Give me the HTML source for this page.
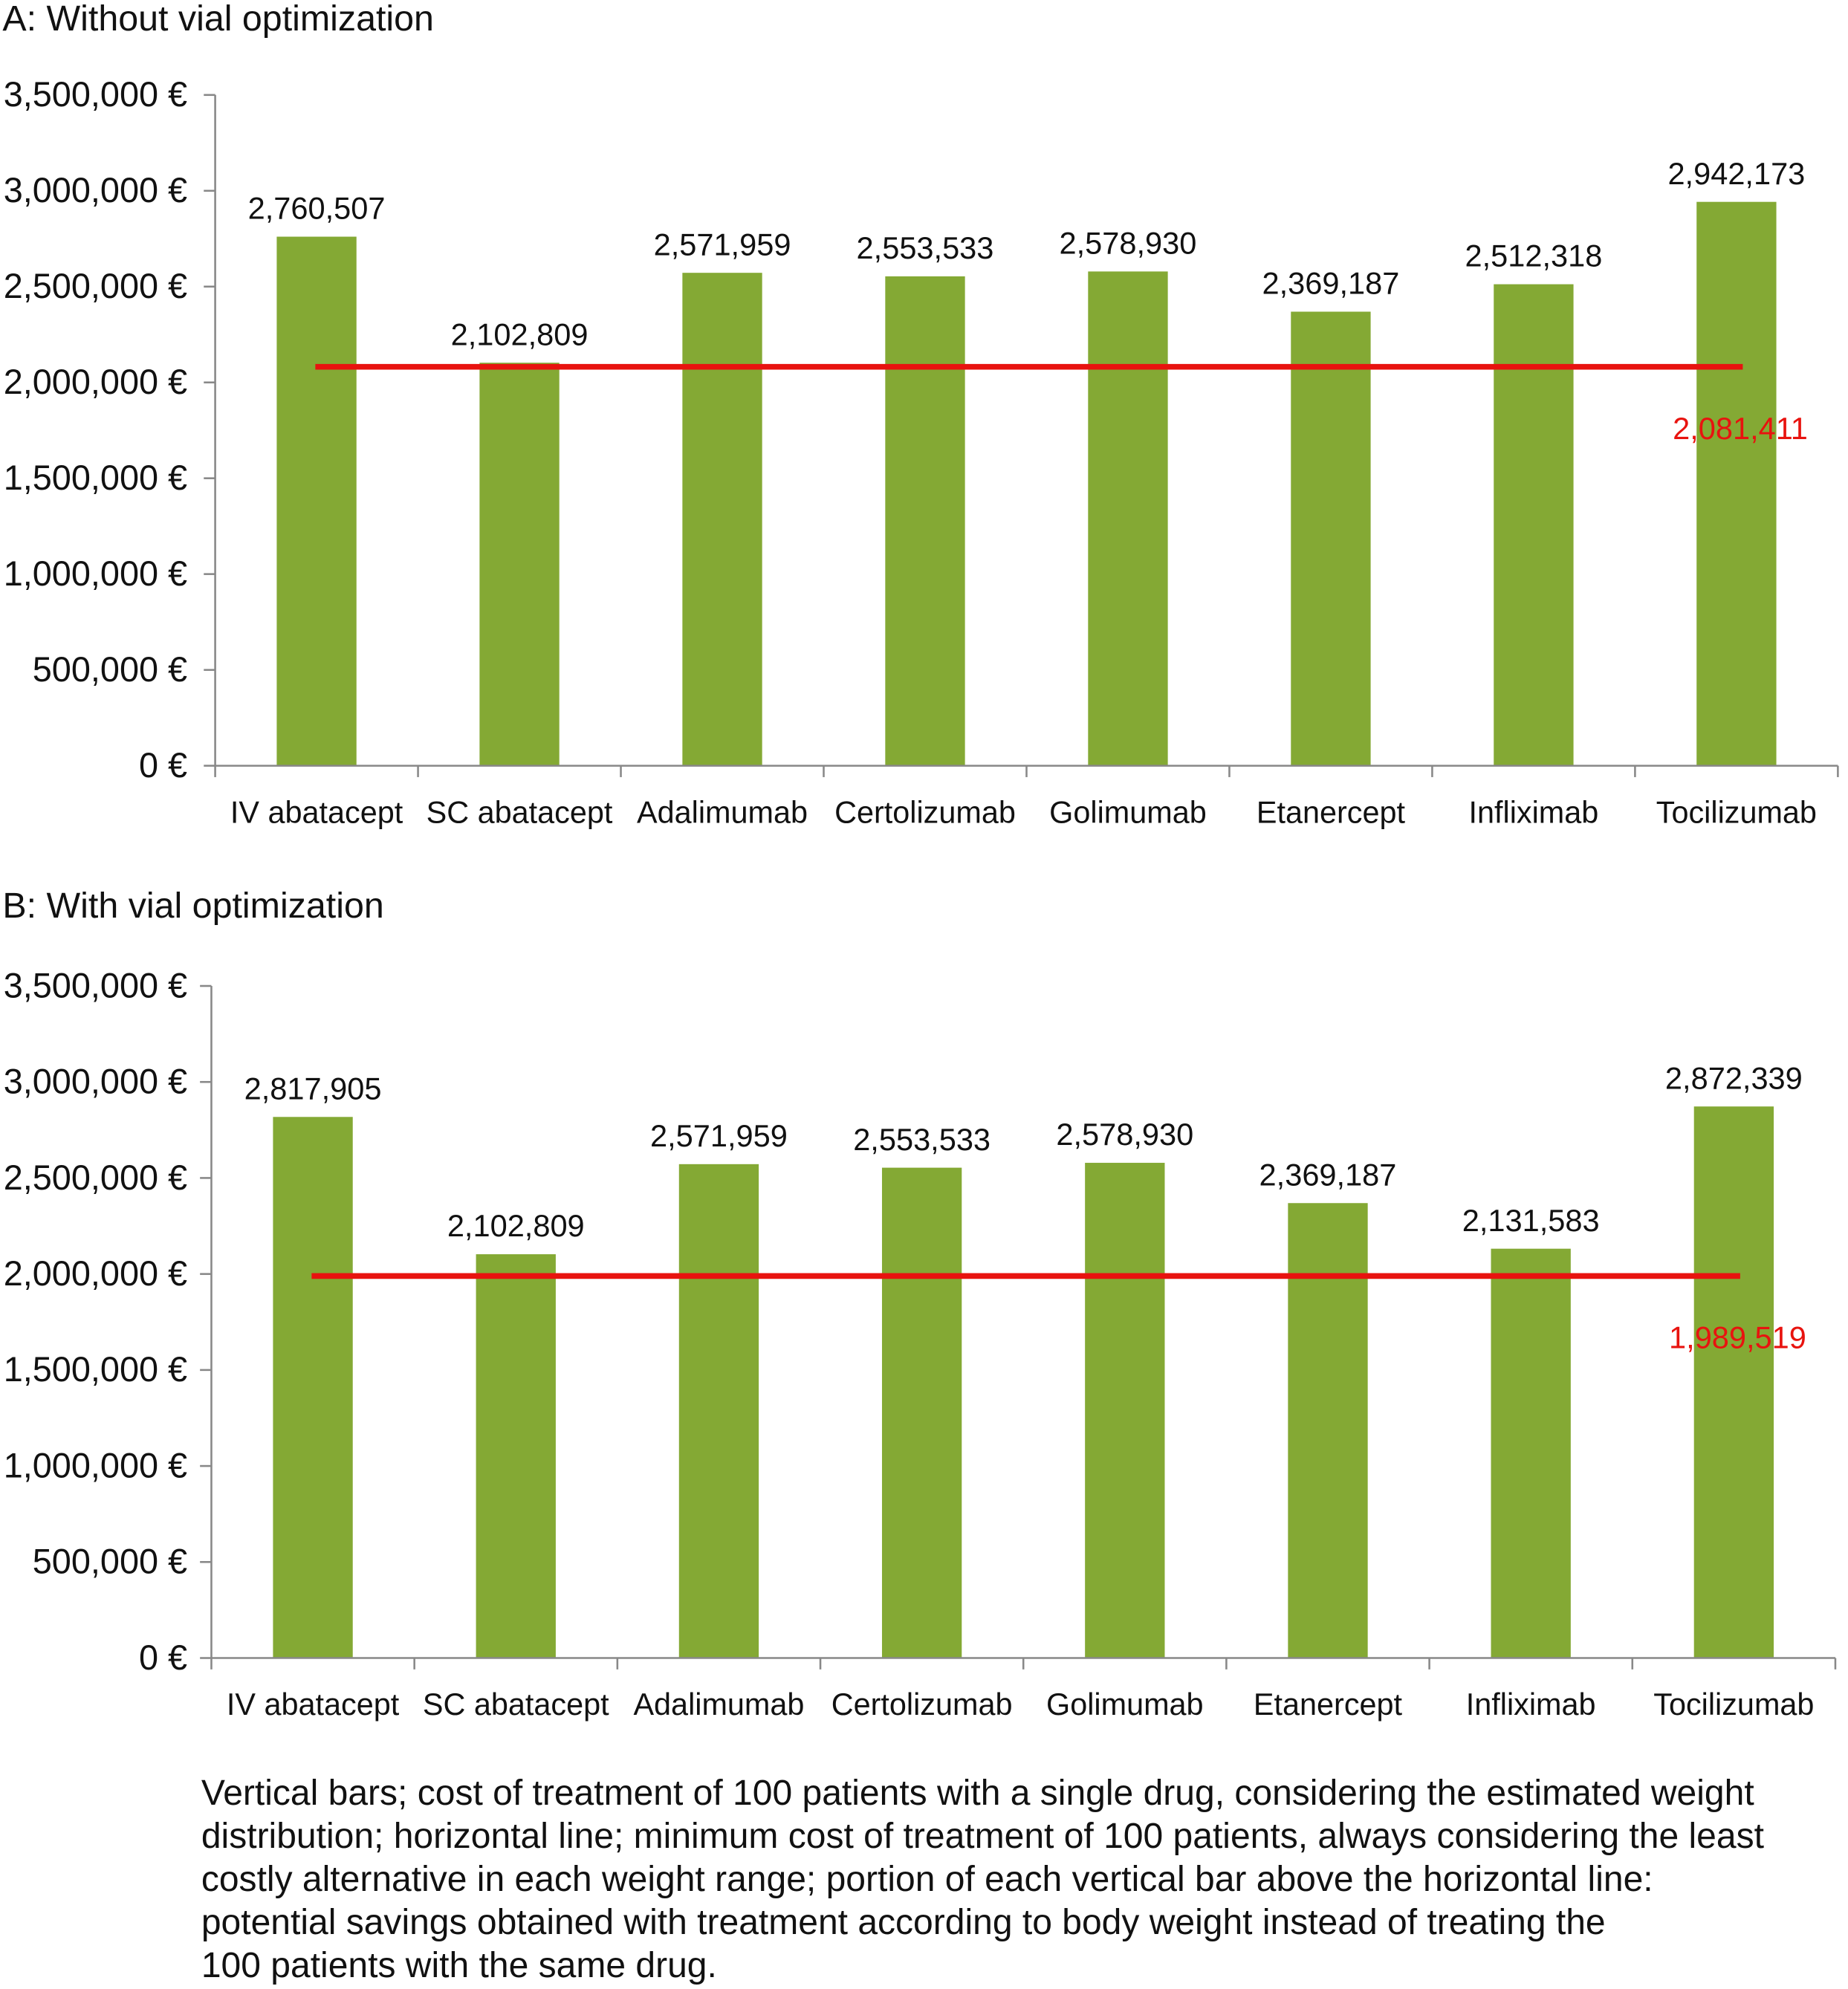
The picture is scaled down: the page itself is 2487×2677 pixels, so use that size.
<!DOCTYPE html>
<html><head><meta charset="utf-8">
<style>
html,body{margin:0;padding:0;background:#fff;}
svg{display:block;font-family:"Liberation Sans",Arial,sans-serif;}
</style></head>
<body>
<svg id="chart" width="2487" height="2677" viewBox="0 0 1460 1571.5" xmlns="http://www.w3.org/2000/svg">
<rect width="1460" height="1571.5" fill="#fff"/>
<g id="caption" font-size="28.2" fill="#111">
<text x="159" y="1426">Vertical bars; cost of treatment of 100 patients with a single drug, considering the estimated weight</text>
<text x="159" y="1460">distribution; horizontal line; minimum cost of treatment of 100 patients, always considering the least</text>
<text x="159" y="1494">costly alternative in each weight range; portion of each vertical bar above the horizontal line:</text>
<text x="159" y="1528">potential savings obtained with treatment according to body weight instead of treating the</text>
<text x="159" y="1562">100 patients with the same drug.</text>
</g>
</svg>
<script>
const categories = ["IV abatacept","SC abatacept","Adalimumab","Certolizumab","Golimumab","Etanercept","Infliximab","Tocilizumab"];
const valuesA = [2760507,2102809,2571959,2553533,2578930,2369187,2512318,2942173];
const valuesB = [2817905,2102809,2571959,2553533,2578930,2369187,2131583,2872339];
const minA = 2081411;
const minB = 1989519;
const yTicks = [0,500000,1000000,1500000,2000000,2500000,3000000,3500000];
const yTickLabels = ["0 €","500,000 €","1,000,000 €","1,500,000 €","2,000,000 €","2,500,000 €","3,000,000 €","3,500,000 €"];
const labelsA = ["2,760,507","2,102,809","2,571,959","2,553,533","2,578,930","2,369,187","2,512,318","2,942,173"];
const labelsB = ["2,817,905","2,102,809","2,571,959","2,553,533","2,578,930","2,369,187","2,131,583","2,872,339"];
const minLabelA = "2,081,411";
const minLabelB = "1,989,519";

const NS="http://www.w3.org/2000/svg";
const svg=document.getElementById('chart');
function mk(tag,attrs,parent){const e=document.createElementNS(NS,tag);for(const k in attrs)e.setAttribute(k,attrs[k]);parent.appendChild(e);return e;}

function drawChart(cfg){
  const g=mk('g',{},svg);
  
  
  const y=v=>cfg.y0-(v/3500000)*(cfg.y0-cfg.yTop);
  const cw=(cfg.x1-cfg.x0)/categories.length;
  const xc=i=>cfg.x0+cw*(i+0.5);
  const t=mk('text',{x:2,y:cfg.titleY,'font-size':28.4,fill:'#111'},g);
  t.textContent=cfg.title;
  
  
  const ya=mk('line',{x1:cfg.x0,y1:y(3500000),x2:cfg.x0,y2:cfg.y0,stroke:'#888','stroke-width':1.5},g);
  
  
  yTicks.forEach((v,i)=>{
    mk('line',{x1:cfg.x0-9,y1:y(v),x2:cfg.x0,y2:y(v),stroke:'#888','stroke-width':1.5},g);
    const l=mk('text',{x:148,y:y(v)+9,'font-size':27.5,'text-anchor':'end',fill:'#111'},g);
    l.textContent=yTickLabels[i];
    
    
  });
  categories.forEach((c,i)=>{
    const v=cfg.values[i];
    const b=mk('rect',{x:xc(i)-31.5,y:y(v),width:63,height:cfg.y0-y(v),fill:'#84a934'},g);
    
    
    const vl=mk('text',{x:xc(i),y:y(v)-14,'font-size':24.4,'text-anchor':'middle',fill:'#111'},g);
    vl.textContent=cfg.labels[i];
    
    
    const cl=mk('text',{x:xc(i),y:cfg.y0+45,'font-size':24.3,'text-anchor':'middle',fill:'#111'},g);
    cl.textContent=c;
    
    
  });
  const xa=mk('line',{x1:cfg.x0,y1:cfg.y0,x2:cfg.x1,y2:cfg.y0,stroke:'#888','stroke-width':1.5},g);
  
  
  for(let i=0;i<=categories.length;i++){
    mk('line',{x1:cfg.x0+cw*i,y1:cfg.y0,x2:cfg.x0+cw*i,y2:cfg.y0+9,stroke:'#888','stroke-width':1.5},g);
  }
  const rl=mk('line',{x1:xc(0)-1,y1:y(cfg.min),x2:xc(7)+5,y2:y(cfg.min),stroke:'#e8130f','stroke-width':4.5},g);
  
  
  const ml=mk('text',{x:xc(7)+3,y:y(cfg.min)+57,'font-size':24.4,'text-anchor':'middle',fill:'#e8130f'},g);
  ml.textContent=cfg.minLabel;
  
  
}
drawChart({name:'chart-a',title:'A: Without vial optimization',titleY:24,x0:170,x1:1452,y0:605,yTop:75,values:valuesA,labels:labelsA,min:minA,minLabel:minLabelA});
drawChart({name:'chart-b',title:'B: With vial optimization',titleY:725,x0:167,x1:1450,y0:1310,yTop:779,values:valuesB,labels:labelsB,min:minB,minLabel:minLabelB});
</script>
</body></html>
